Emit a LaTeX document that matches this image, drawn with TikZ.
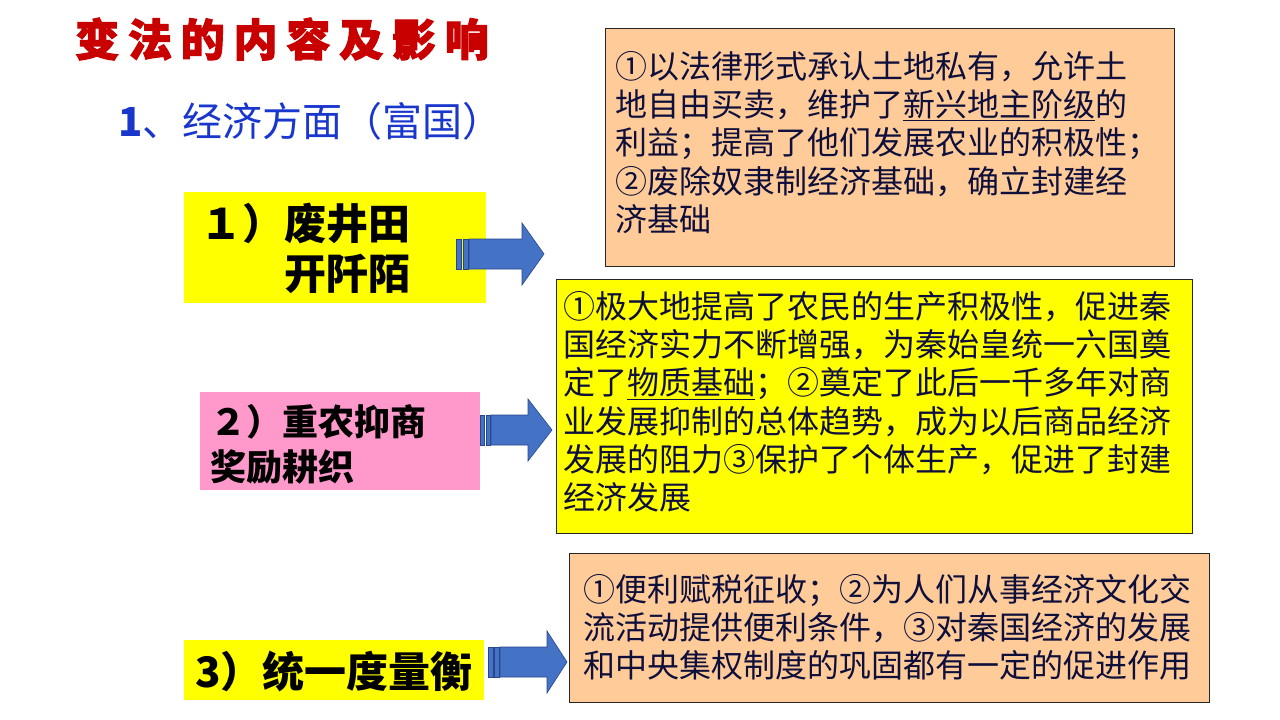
\documentclass[tikz,border=0pt]{standalone}
\usepackage{fontspec}
\setmainfont{Noto Sans CJK SC}
\newfontfamily\cjk{Noto Sans CJK SC}
\newfontfamily\cjkheavy[FakeBold=2.5]{Noto Sans CJK SC}
\definecolor{titlered}{RGB}{200,0,0}
\definecolor{headblue}{RGB}{25,55,205}
\definecolor{boxyellow}{RGB}{255,255,0}
\definecolor{boxpink}{RGB}{255,153,204}
\definecolor{boxorange}{RGB}{255,204,153}
\definecolor{arrfill}{RGB}{68,114,196}
\definecolor{arrline}{RGB}{40,70,140}
\definecolor{bodytext}{RGB}{15,15,60}
\newcommand\blkarrow[5]{%
  \draw[arrshape] (#1,#5-15) rectangle (#1+0.4*#2-0.4*#1,#5+15);
  \draw[arrshape] (#1+0.55*#2-0.55*#1,#5-15) rectangle (#1+0.92*#2-0.92*#1,#5+15);
  \draw[arrshape] (#2,#5-15) -- (#3,#5-15) -- (#3,#5-31) -- (#4,#5) -- (#3,#5+31) -- (#3,#5+15) -- (#2,#5+15) -- cycle;
}
\begin{document}
\begin{tikzpicture}[x=1pt,y=-1pt,
  leftbox/.style={inner sep=0pt, anchor=north west},
  rightbox/.style={draw=black!85, line width=0.8pt, inner sep=0pt, anchor=north west},
  lefttext/.style={inner sep=0pt, anchor=north west, align=left, text=black, font=\cjk\bfseries},
  righttext/.style={inner sep=0pt, anchor=north west, align=left, text=bodytext, font=\cjk\fontsize{32}{38.3}\selectfont},
  arrshape/.style={fill=arrfill, draw=arrline, line width=0.6pt, line join=miter}
]
\useasboundingbox (0,0) rectangle (1280,720);
\fill[white] (0,0) rectangle (1280,720);

% title
\node[inner sep=0pt, anchor=west, text=titlered, font=\cjkheavy\bfseries\fontsize{44}{46}\selectfont\addfontfeature{LetterSpace=20}] (title) at (75,39) {变法的内容及影响};
\node[inner sep=0pt, anchor=west, text=headblue, font=\cjk\fontsize{40}{42}\selectfont] (head) at (118,121) {\textbf{1}、经济方面（富国）};

% left boxes
\node[leftbox, fill=boxyellow, minimum width=302pt, minimum height=111pt] (l1) at (184,192) {};
\node[leftbox, fill=boxpink, minimum width=280pt, minimum height=98pt] (l2) at (200,392) {};
\node[leftbox, fill=boxyellow, minimum width=300pt, minimum height=60pt] (l3) at (184,640) {};

\node[lefttext, font=\cjk\bfseries\fontsize{42}{50}\selectfont] (t1) at (200,203) {１）废井田\\\phantom{１）}开阡陌};
\node[lefttext, font=\cjk\bfseries\fontsize{36}{45}\selectfont] (t2) at (210,404) {２）重农抑商\\奖励耕织};
\node[lefttext, font=\cjk\bfseries\fontsize{42}{50}\selectfont] (t3) at (195,651) {3）统一度量衡};

% right boxes
\node[rightbox, fill=boxorange, minimum width=569pt, minimum height=238pt] (r1) at (605,28) {};
\node[rightbox, fill=boxyellow, minimum width=636pt, minimum height=254pt] (r2) at (556,279) {};
\node[rightbox, fill=boxorange, minimum width=640pt, minimum height=149pt] (r3) at (569,553) {};

\node[righttext] (rt1) at (615,51) {①以法律形式承认土地私有，允许土\\地自由买卖，维护了\underline{新兴地主阶级}的\\利益；提高了他们发展农业的积极性；\\②废除奴隶制经济基础，确立封建经\\济基础};
\node[righttext] (rt2) at (563,291) {①极大地提高了农民的生产积极性，促进秦\\国经济实力不断增强，为秦始皇统一六国奠\\定了\underline{物质基础}；②奠定了此后一千多年对商\\业发展抑制的总体趋势，成为以后商品经济\\发展的阻力③保护了个体生产，促进了封建\\经济发展};
\node[righttext] (rt3) at (583,574) {①便利赋税征收；②为人们从事经济文化交\\流活动提供便利条件，③对秦国经济的发展\\和中央集权制度的巩固都有一定的促进作用};

% block arrows
\blkarrow{456}{469}{522}{544}{254}
\blkarrow{480}{491}{528}{552}{430}
\blkarrow{488}{500}{547}{567}{662}
\end{tikzpicture}
\end{document}
